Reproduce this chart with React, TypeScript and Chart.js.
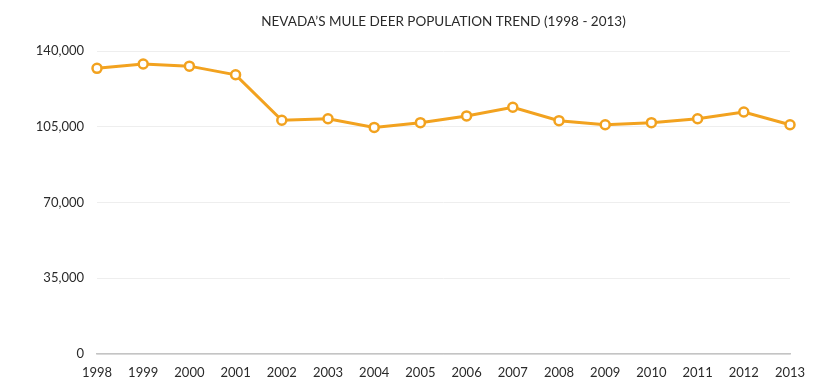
import React, { useEffect, useRef } from "react";
import { Chart, registerables } from "chart.js";

Chart.register(...registerables);

const years = ["1998","1999","2000","2001","2002","2003","2004","2005","2006","2007","2008","2009","2010","2011","2012","2013"];
const population = [132000,134000,133000,129000,108000,108700,104700,106900,110000,114000,107800,105900,106900,108700,111800,105900];
const yTicks = [0, 35000, 70000, 105000, 140000];
const titleText = "NEVADA’S MULE DEER POPULATION TREND (1998 - 2013)";

const FONT = "Lato, 'Open Sans', sans-serif";
const ORANGE = "#f2a21f";

const titlePlugin = {
  id: "centerTitle",
  afterDraw(chart: any) {
    const { ctx, chartArea } = chart;
    ctx.save();
    ctx.font = `13.5px ${FONT}`;
    ctx.fillStyle = "#2a2a2a";
    ctx.textAlign = "center";
    ctx.textBaseline = "middle";
    ctx.fillText(titleText, (chartArea.left + chartArea.right) / 2, 22);
    ctx.restore();
  },
};

export default function App() {
  const ref = useRef<HTMLCanvasElement | null>(null);
  useEffect(() => {
    if (!ref.current) return;
    const chart = new Chart(ref.current, {
      type: "line",
      data: {
        labels: years,
        datasets: [
          {
            data: population,
            borderColor: ORANGE,
            borderWidth: 3,
            pointRadius: 4.5,
            pointBorderWidth: 2.5,
            pointBackgroundColor: "#fff",
            pointBorderColor: ORANGE,
            tension: 0,
          },
        ],
      },
      plugins: [titlePlugin],
      options: {
        animation: false,
        responsive: false,
        maintainAspectRatio: false,
        layout: { padding: { top: 51, right: 30, left: 0, bottom: 0 } },
        plugins: { legend: { display: false }, tooltip: { enabled: false }, title: { display: false } },
        scales: {
          x: {
            offset: false,
            grid: { display: false },
            border: { display: true, color: "#c4c4c4", width: 1.5 },
            ticks: { color: "#2a2a2a", font: { family: FONT, size: 13 }, padding: 3, maxRotation: 0, autoSkip: false },
            afterFit(scale: any) { scale.height = 38; },
          },
          y: {
            min: 0,
            max: 140000,
            afterBuildTicks(scale: any) { scale.ticks = yTicks.map((v) => ({ value: v })); },
            grid: { color: "#eeeeee", drawTicks: false },
            border: { display: false },
            ticks: {
              color: "#2a2a2a",
              font: { family: FONT, size: 13 },
              padding: 13,
              callback: (v: any) => Number(v).toLocaleString("en-US"),
            },
            afterFit(scale: any) { scale.width = 97; },
          },
        },
      },
    });
    return () => chart.destroy();
  }, []);
  return (
    <div style={{ position: "fixed", left: 0, top: 0, width: 820, height: 392, background: "#fff" }}>
      <canvas ref={ref} width={820} height={392} style={{ width: 820, height: 392, display: "block" }} />
    </div>
  );
}
